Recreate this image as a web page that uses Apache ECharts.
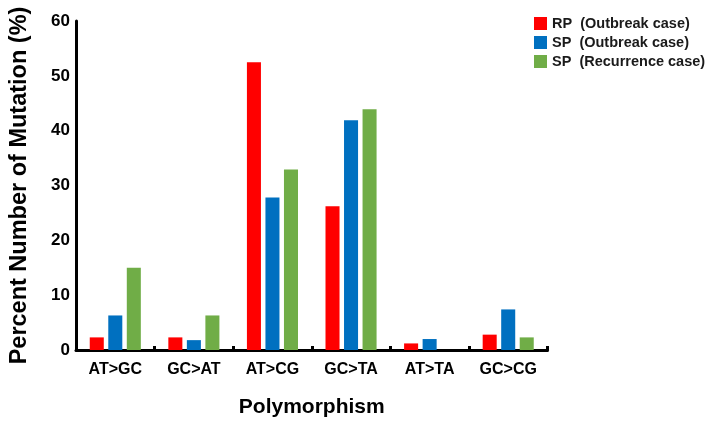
<!DOCTYPE html>
<html>
<head>
<meta charset="utf-8">
<script src="https://cdn.jsdelivr.net/npm/echarts@6/dist/echarts.min.js"></script>
<style>html,body{margin:0;padding:0;background:#fff;}#c{width:708px;height:423px;}</style>
</head>
<body>
<div id="c"></div>
<script>
const categories = ['AT>GC', 'GC>AT', 'AT>CG', 'GC>TA', 'AT>TA', 'GC>CG'];
const seriesNames = ['RP  (Outbreak case)', 'SP  (Outbreak case)', 'SP  (Recurrence case)'];
const rpOutbreak = [2.3, 2.3, 52.5, 26.2, 1.2, 2.8];
const spOutbreak = [6.3, 1.8, 27.8, 41.9, 2.0, 7.4];
const spRecurrence = [15.0, 6.3, 32.9, 43.9, 0, 2.3];
const colors = ['#FF0000', '#0070C0', '#70AD47'];
const yTicks = [0, 10, 20, 30, 40, 50, 60];

const font = 'Liberation Sans, Arial, Helvetica, sans-serif';
const chart = echarts.init(document.getElementById('c'), null, {renderer: 'canvas'});
const dataSets = [rpOutbreak, spOutbreak, spRecurrence];
chart.setOption({
  animation: false,
  backgroundColor: '#ffffff',
  grid: {left: 69, right: 160.5, top: 21, bottom: 72, containLabel: false},
  legend: {
    orient: 'vertical', left: 529, top: 11,
    itemWidth: 13, itemHeight: 13, itemGap: 4,
    icon: 'rect',
    textStyle: {fontFamily: font, fontWeight: 'bold', fontSize: 14.5, color: '#1a1a1a'},
    data: seriesNames
  },
  xAxis: {
    type: 'category',
    data: categories,
    name: 'Polymorphism',
    nameLocation: 'middle',
    nameGap: 47,
    nameTextStyle: {fontFamily: font, fontWeight: 'bold', fontSize: 21, color: '#000'},
    axisLine: {show: true, lineStyle: {color: '#000', width: 3}},
    axisTick: {show: true, inside: true, length: 4, lineStyle: {color: '#000', width: 3}},
    axisLabel: {fontFamily: font, fontWeight: 'bold', fontSize: 16, color: '#000', margin: 12}
  },
  yAxis: {
    type: 'value', min: 0, max: 60, interval: 10,
    name: 'Percent Number of Mutation (%)',
    nameLocation: 'middle',
    nameGap: 44,
    nameTextStyle: {fontFamily: font, fontWeight: 'bold', fontSize: 23.5, color: '#000'},
    axisLine: {show: true, lineStyle: {color: '#000', width: 3}},
    axisTick: {show: false},
    splitLine: {show: false},
    axisLabel: {fontFamily: font, fontWeight: 'bold', fontSize: 17, color: '#000', margin: 6,
      formatter: function (v) { return yTicks.indexOf(v) >= 0 ? String(v) : ''; }}
  },
  series: dataSets.map(function (d, i) {
    return {
      name: seriesNames[i], type: 'bar', data: d,
      barGap: '32%', barCategoryGap: '35%',
      itemStyle: {color: colors[i]}
    };
  })
});
</script>
</body>
</html>
